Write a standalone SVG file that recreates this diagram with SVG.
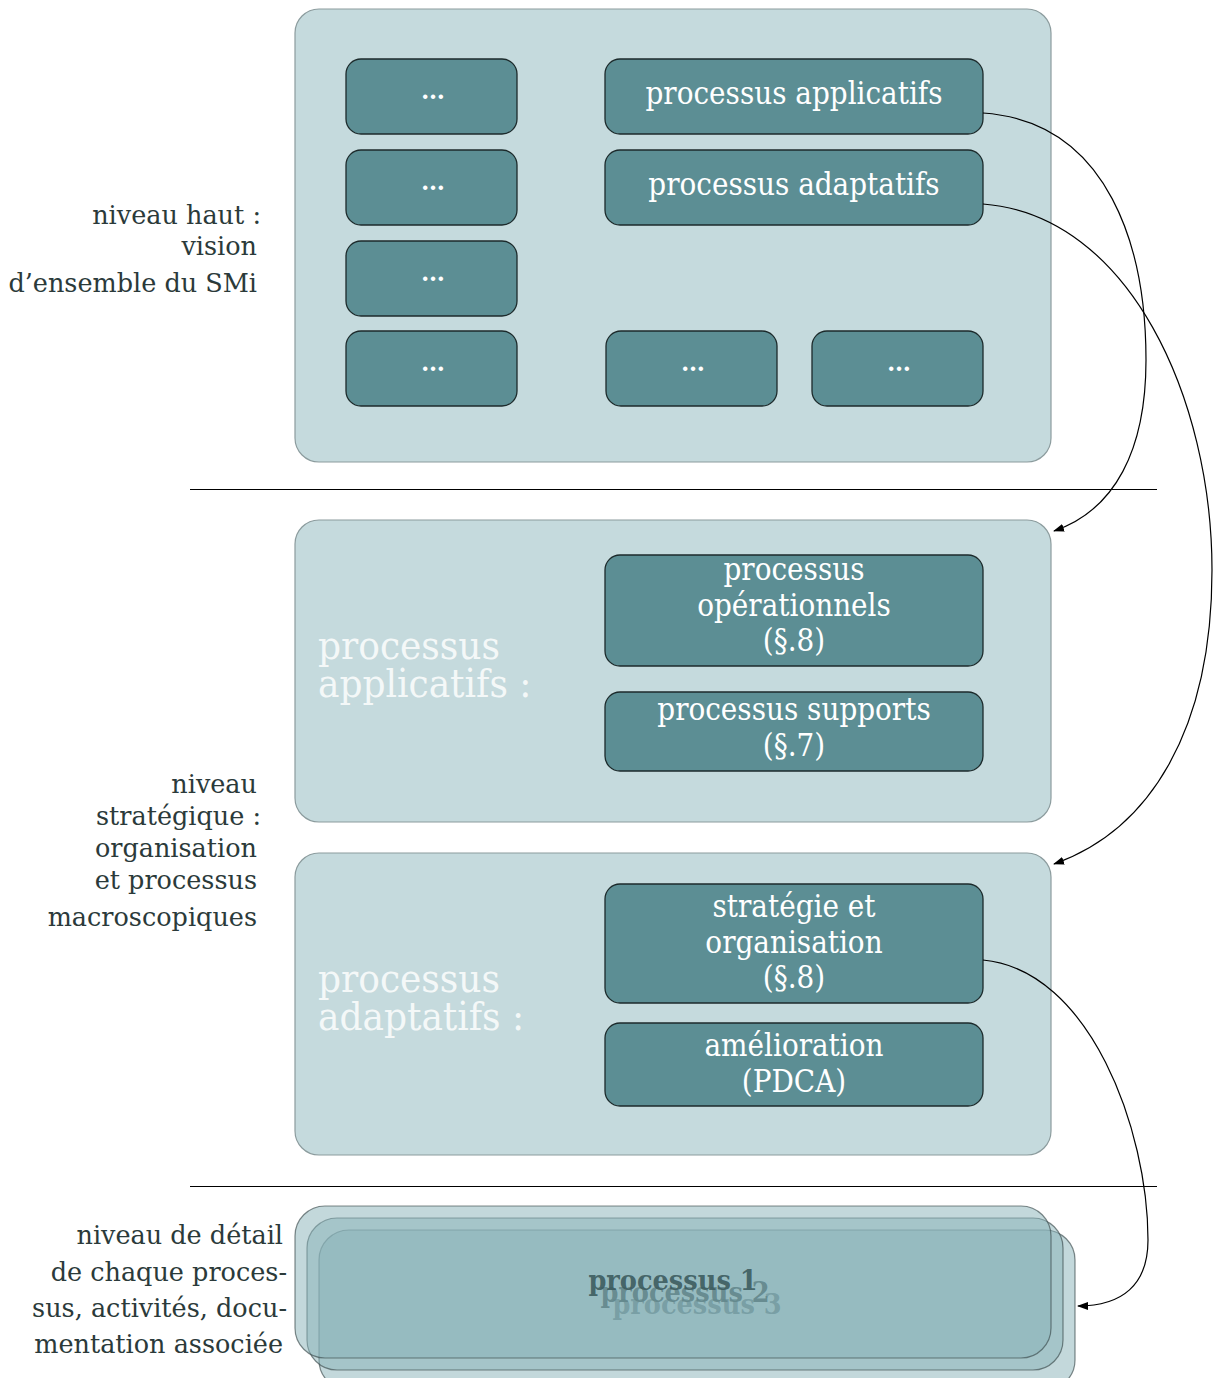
<svg xmlns="http://www.w3.org/2000/svg" width="1216" height="1378" viewBox="0 0 1216 1378">
<defs>
<style>
.cont{fill:#c5dadd;stroke:#8c9c9e;stroke-width:1.2}
.box{fill:#5c8e94;stroke:#1c2a2b;stroke-width:1.3}
.bt{font-family:"DejaVu Serif","Liberation Serif",serif;font-stretch:condensed;font-size:31px;fill:#ffffff;text-anchor:middle}
.dots{font-family:"DejaVu Serif","Liberation Serif",serif;font-size:24px;font-weight:bold;fill:#ffffff;text-anchor:middle}
.big{font-family:"DejaVu Serif","Liberation Serif",serif;font-stretch:condensed;font-size:40px;fill:#f4f8f8}
.lab{font-family:"DejaVu Serif","Liberation Serif",serif;font-size:25.5px;fill:#2b3a3a;text-anchor:end}
.det{fill:#87b1b8;fill-opacity:0.5;stroke:#3a4a4b;stroke-opacity:0.65;stroke-width:1.2}
.dt{font-family:"DejaVu Serif","Liberation Serif",serif;font-stretch:condensed;font-weight:bold;font-size:28.5px;fill:#3b5a5d;fill-opacity:0.9;text-anchor:middle}
.conn{fill:none;stroke:#000;stroke-width:1.2}
.sep{stroke:#000;stroke-width:1.2}
</style>
<marker id="arr" markerUnits="userSpaceOnUse" markerWidth="12" markerHeight="10" refX="10" refY="4" orient="auto">
<path d="M0,0 L11,4 L0,8 z" fill="#000"/>
</marker>
</defs>

<g id="labels">
<text class="lab" x="261" y="224">niveau haut :</text>
<text class="lab" x="257" y="255">vision</text>
<text class="lab" x="257" y="292">d’ensemble du SMi</text>
<text class="lab" x="257" y="793">niveau</text>
<text class="lab" x="261" y="825">stratégique :</text>
<text class="lab" x="257" y="857">organisation</text>
<text class="lab" x="257" y="889">et processus</text>
<text class="lab" x="257" y="926">macroscopiques</text>
<text class="lab" x="283" y="1244">niveau de détail</text>
<text class="lab" x="287" y="1281">de chaque proces-</text>
<text class="lab" x="287" y="1317">sus, activités, docu-</text>
<text class="lab" x="283" y="1353">mentation associée</text>
</g>

<g id="separators">
<line class="sep" x1="190" y1="489.5" x2="1157" y2="489.5"/>
<line class="sep" x1="190" y1="1186.5" x2="1157" y2="1186.5"/>
</g>

<g id="top-level">
<rect class="cont" x="295" y="9" width="756" height="453" rx="24"/>
<g id="n-dots1"><rect class="box" x="346" y="59" width="171" height="75" rx="15"/><text class="dots" x="433" y="99">…</text></g>
<g id="n-dots2"><rect class="box" x="346" y="150" width="171" height="75" rx="15"/><text class="dots" x="433" y="190">…</text></g>
<g id="n-dots3"><rect class="box" x="346" y="241" width="171" height="75" rx="15"/><text class="dots" x="433" y="281">…</text></g>
<g id="n-dots4"><rect class="box" x="346" y="331" width="171" height="75" rx="15"/><text class="dots" x="433" y="371">…</text></g>
<g id="n-dots5"><rect class="box" x="606" y="331" width="171" height="75" rx="15"/><text class="dots" x="693" y="371">…</text></g>
<g id="n-dots6"><rect class="box" x="812" y="331" width="171" height="75" rx="15"/><text class="dots" x="899" y="371">…</text></g>
<g id="n-applicatifs"><rect class="box" x="605" y="59" width="378" height="75" rx="15"/><text class="bt" x="794" y="104">processus applicatifs</text></g>
<g id="n-adaptatifs"><rect class="box" x="605" y="150" width="378" height="75" rx="15"/><text class="bt" x="794" y="195">processus adaptatifs</text></g>
</g>

<g id="applicatifs-level">
<rect class="cont" x="295" y="520" width="756" height="302" rx="24"/>
<text class="big" x="318" y="659">processus</text>
<text class="big" x="318" y="697">applicatifs :</text>
<g id="n-operationnels"><rect class="box" x="605" y="555" width="378" height="111" rx="15"/>
<text class="bt" x="794" y="580">processus</text>
<text class="bt" x="794" y="616">opérationnels</text>
<text class="bt" x="794" y="651">(§.8)</text></g>
<g id="n-supports"><rect class="box" x="605" y="692" width="378" height="79" rx="15"/>
<text class="bt" x="794" y="720">processus supports</text>
<text class="bt" x="794" y="756">(§.7)</text></g>
</g>

<g id="adaptatifs-level">
<rect class="cont" x="295" y="853" width="756" height="302" rx="24"/>
<text class="big" x="318" y="992">processus</text>
<text class="big" x="318" y="1030">adaptatifs :</text>
<g id="n-strategie"><rect class="box" x="605" y="884" width="378" height="119" rx="15"/>
<text class="bt" x="794" y="917">stratégie et</text>
<text class="bt" x="794" y="953">organisation</text>
<text class="bt" x="794" y="988">(§.8)</text></g>
<g id="n-amelioration"><rect class="box" x="605" y="1023" width="378" height="83" rx="15"/>
<text class="bt" x="794" y="1056">amélioration</text>
<text class="bt" x="794" y="1092">(PDCA)</text></g>
</g>

<g id="detail-level">
<g id="n-p3"><rect class="det" x="319" y="1230" width="756" height="160" rx="30"/><text class="dt" x="697" y="1314">processus 3</text></g>
<g id="n-p2"><rect class="det" x="307" y="1218" width="756" height="152" rx="30"/><text class="dt" x="685" y="1302">processus 2</text></g>
<g id="n-p1"><rect class="det" x="295" y="1206" width="756" height="152" rx="30"/><text class="dt" x="673" y="1290">processus 1</text></g>
</g>

<g id="connectors">
<path class="conn" marker-end="url(#arr)" d="M983,113 C1110,122 1146,250 1146,360 C1146,450 1115,510 1054,531"/>
<path class="conn" marker-end="url(#arr)" d="M983,204 C1130,215 1212,400 1212,570 C1212,730 1150,830 1054,864"/>
<path class="conn" marker-end="url(#arr)" d="M983,960 C1090,970 1148,1130 1148,1240 C1148,1285 1122,1306 1078,1306"/>
</g>
</svg>
